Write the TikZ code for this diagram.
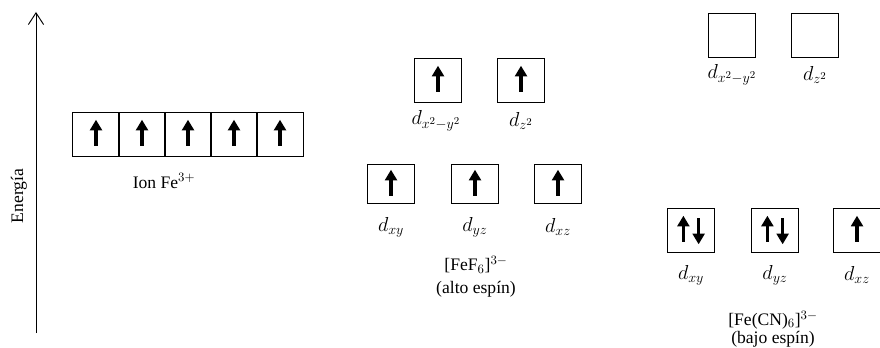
\documentclass[tikz,border=0pt]{standalone}
\usepackage{fontspec}
\setmainfont{Liberation Serif}
\usetikzlibrary{arrows.meta,positioning}

\tikzset{
  orb/.style={draw, line width=0.8pt, minimum width=1.41cm, minimum height=1.32cm, inner sep=0pt},
  spin/.style={line width=2.8pt, -{Triangle[length=9pt,width=10pt]}},
  oneup/.style={path picture={\draw[spin] ([yshift=-10pt]path picture bounding box.center) -- ++(0,-26);}},
  pairup/.style={path picture={
      \draw[spin] ([xshift=-6.5pt,yshift=-10pt]path picture bounding box.center) -- ++(0,-26);
      \draw[spin] ([xshift=6.5pt,yshift=10pt]path picture bounding box.center) -- ++(0,26);}},
  lbl/.style={inner sep=0pt, font=\fontsize{15}{17}\selectfont},
  dlbl/.style={inner sep=0pt, font=\fontsize{18}{20}\selectfont}
}

\begin{document}
\begin{tikzpicture}[x=0.03cm, y=-0.03cm]
  \useasboundingbox (0,0) rectangle (880,348);

  % energy axis
  \coordinate (axbot) at (36,333);
  \coordinate (axtop) at (36,12);
  \draw[line width=0.8pt, -{Straight Barb[length=10pt,width=13pt,line width=0.8pt]}] (axbot) -- (axtop);
  \node[lbl, rotate=90] (energia) at (19,196) {Energía};

  % free ion
  \node[orb, oneup] (ion1) at (96,134) {};
  \node[orb, oneup] (ion2) at (142,134) {};
  \node[orb, oneup] (ion3) at (188,134) {};
  \node[orb, oneup] (ion4) at (234,134) {};
  \node[orb, oneup] (ion5) at (280,134) {};
  \node[lbl] (ionlbl) at (164,181) {Ion Fe$^{3+}$};

  % high spin
  \node[orb, oneup] (hsx2y2) at (438,80) {};
  \node[orb, oneup] (hsz2) at (521,80) {};
  \node[dlbl] (hsx2y2lbl) at (436,121) {$d_{x^2-y^2}$};
  \node[dlbl] (hsz2lbl) at (521,121) {$d_{z^2}$};
  \node[orb, oneup, minimum height=1.15cm] (hsxy) at (391,184) {};
  \node[orb, oneup, minimum height=1.15cm] (hsyz) at (475,184) {};
  \node[orb, oneup, minimum height=1.15cm] (hsxz) at (558,184) {};
  \node[dlbl] (hsxylbl) at (391,227) {$d_{xy}$};
  \node[dlbl] (hsyzlbl) at (475,227) {$d_{yz}$};
  \node[dlbl] (hsxzlbl) at (558,227) {$d_{xz}$};
  \node[lbl] (hsname) at (476,265) {[FeF$_6$]$^{3-}$};
  \node[lbl] (hsspin) at (476,289) {(alto espín)};

  % low spin
  \node[orb] (lsx2y2) at (732,35) {};
  \node[orb] (lsz2) at (815,35) {};
  \node[dlbl] (lsx2y2lbl) at (732,75) {$d_{x^2-y^2}$};
  \node[dlbl] (lsz2lbl) at (815,75) {$d_{z^2}$};
  \node[orb, pairup] (lsxy) at (691,230) {};
  \node[orb, pairup] (lsyz) at (775,230) {};
  \node[orb, oneup] (lsxz) at (857,230) {};
  \node[dlbl] (lsxylbl) at (691,275) {$d_{xy}$};
  \node[dlbl] (lsyzlbl) at (775,275) {$d_{yz}$};
  \node[dlbl] (lsxzlbl) at (857,275) {$d_{xz}$};
  \node[lbl] (lsname) at (773,320) {[Fe(CN)$_6$]$^{3-}$};
  \node[lbl] (lsspin) at (773,339) {(bajo espín)};
\end{tikzpicture}
\end{document}
